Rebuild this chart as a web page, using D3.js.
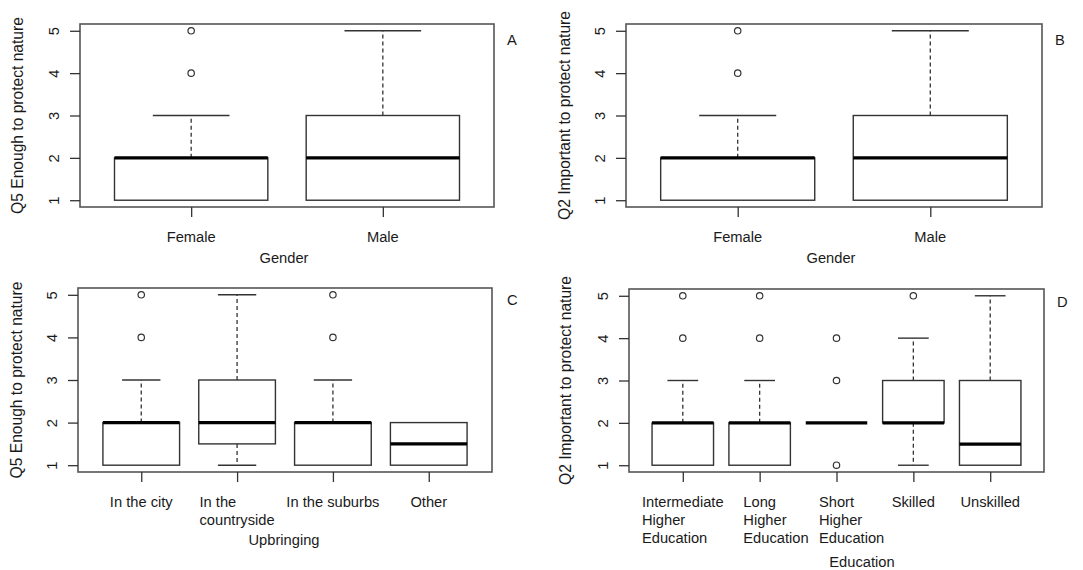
<!DOCTYPE html>
<html><head><meta charset="utf-8">
<script src="https://cdn.jsdelivr.net/npm/d3@7"></script>
<style>
html,body{margin:0;padding:0;background:#fff;}
svg{display:block;font-family:"Liberation Sans",Arial,sans-serif;}
</style></head>
<body>
<svg id="chart" width="1083" height="570"></svg>
<script>
// ---------- data ----------
const yTicks = [1, 2, 3, 4, 5];

// Panel A: Q5 by Gender
const genderCats = ["Female", "Male"];
const aQ1 = [1, 1], aMed = [2, 2], aQ3 = [2, 3], aLo = [1, 1], aHi = [3, 5];
const aOut = [[4, 5], []];

// Panel B: Q2 by Gender
const bQ1 = [1, 1], bMed = [2, 2], bQ3 = [2, 3], bLo = [1, 1], bHi = [3, 5];
const bOut = [[4, 5], []];

// Panel C: Q5 by Upbringing
const upCats = ["In the city", "In the\ncountryside", "In the suburbs", "Other"];
const cQ1 = [1, 1.5, 1, 1], cMed = [2, 2, 2, 1.5], cQ3 = [2, 3, 2, 2], cLo = [1, 1, 1, 1], cHi = [3, 5, 3, 2];
const cOut = [[4, 5], [], [4, 5], []];

// Panel D: Q2 by Education
const eduCats = ["Intermediate\nHigher\nEducation", "Long\nHigher\nEducation", "Short\nHigher\nEducation", "Skilled", "Unskilled"];
const dQ1 = [1, 1, 2, 2, 1], dMed = [2, 2, 2, 2, 1.5], dQ3 = [2, 2, 2, 3, 3], dLo = [1, 1, 2, 1, 1], dHi = [3, 3, 2, 4, 5];
const dOut = [[4, 5], [4, 5], [1, 3, 4], [5], []];

const yTitles = ["Q5 Enough to protect nature", "Q2 Important to protect nature"];
const xTitles = ["Gender", "Upbringing", "Education"];
const panelLetters = ["A", "B", "C", "D"];

// ---------- build ----------
function stats(cats, q1, med, q3, lo, hi, out) {
  return cats.map((c, i) => ({cat: c, i: i + 1, q1: q1[i], med: med[i], q3: q3[i], lo: lo[i], hi: hi[i], out: out[i]}));
}

const panels = [
  {data: stats(genderCats, aQ1, aMed, aQ3, aLo, aHi, aOut), yTitle: yTitles[0], xTitle: xTitles[0], letter: panelLetters[0],
   L: 80, R: 494, T: 24, B: 207, ytx: 17, xtx: 284, xty: 258, lx: 507, ly: 45, align: "block"},
  {data: stats(genderCats, bQ1, bMed, bQ3, bLo, bHi, bOut), yTitle: yTitles[1], xTitle: xTitles[0], letter: panelLetters[1],
   L: 626, R: 1042, T: 24, B: 207, ytx: 564, xtx: 831, xty: 258, lx: 1055, ly: 45, align: "block"},
  {data: stats(upCats, cQ1, cMed, cQ3, cLo, cHi, cOut), yTitle: yTitles[0], xTitle: xTitles[1], letter: panelLetters[2],
   L: 78, R: 492, T: 288, B: 472, ytx: 16, xtx: 284, xty: 540, lx: 507, ly: 305, align: "block"},
  {data: stats(eduCats, dQ1, dMed, dQ3, dLo, dHi, dOut), yTitle: yTitles[1], xTitle: xTitles[2], letter: panelLetters[3],
   L: 629, R: 1044, T: 289, B: 472, ytx: 565, xtx: 862, xty: 562, lx: 1057, ly: 307, align: "first"}
];

const svg = d3.select("#chart");
const FS = 14.7;      // horizontal text
const FSR = 15.6;     // rotated axis titles
const lineCol = "#333";
const textCol = "#1a1a1a";

panels.forEach(p => {
  const n = p.data.length;
  const x = d3.scaleLinear().domain([0.5 - 0.04 * n, n + 0.5 + 0.04 * n]).range([p.L, p.R]);
  const y = d3.scaleLinear().domain([0.84, 5.16]).range([p.B, p.T]);
  const bw = (x(1.4) - x(1));  // half box width (0.8 wide boxes)
  const g = svg.append("g");

  p.data.forEach(d => {
    const cx = x(d.i);
    if (d.hi > d.q3) {
      g.append("line").attr("x1", cx).attr("x2", cx).attr("y1", y(d.q3)).attr("y2", y(d.hi))
        .attr("stroke", lineCol).attr("stroke-width", 1.3).attr("stroke-dasharray", "4,3");
      g.append("line").attr("x1", cx - bw / 2).attr("x2", cx + bw / 2).attr("y1", y(d.hi)).attr("y2", y(d.hi))
        .attr("stroke", lineCol).attr("stroke-width", 1.4);
    }
    if (d.lo < d.q1) {
      g.append("line").attr("x1", cx).attr("x2", cx).attr("y1", y(d.q1)).attr("y2", y(d.lo))
        .attr("stroke", lineCol).attr("stroke-width", 1.3).attr("stroke-dasharray", "4,3");
      g.append("line").attr("x1", cx - bw / 2).attr("x2", cx + bw / 2).attr("y1", y(d.lo)).attr("y2", y(d.lo))
        .attr("stroke", lineCol).attr("stroke-width", 1.4);
    }
    if (d.q3 > d.q1) {
      g.append("rect").attr("x", cx - bw).attr("y", y(d.q3)).attr("width", 2 * bw).attr("height", y(d.q1) - y(d.q3))
        .attr("fill", "#fff").attr("stroke", lineCol).attr("stroke-width", 1.4);
    }
    g.append("line").attr("x1", cx - bw).attr("x2", cx + bw).attr("y1", y(d.med)).attr("y2", y(d.med))
      .attr("stroke", "#000").attr("stroke-width", 3.2);
    d.out.forEach(o => {
      g.append("circle").attr("cx", cx).attr("cy", y(o)).attr("r", 3.2)
        .attr("fill", "none").attr("stroke", lineCol).attr("stroke-width", 1.2);
    });
  });

  // frame
  g.append("rect").attr("x", p.L).attr("y", p.T).attr("width", p.R - p.L).attr("height", p.B - p.T)
    .attr("fill", "none").attr("stroke", "#555").attr("stroke-width", 1.6);

  // y axis
  const ya = g.append("g").attr("transform", `translate(${p.L},0)`)
    .call(d3.axisLeft(y).tickValues(yTicks).tickSize(10).tickFormat(d3.format("d")));
  ya.select(".domain").remove();
  ya.selectAll(".tick line").attr("stroke", lineCol).attr("stroke-width", 1.3);
  ya.selectAll(".tick text").attr("transform", "rotate(-90)").attr("x", 0).attr("y", -21).attr("dy", 0)
    .attr("text-anchor", "middle").attr("font-size", FS).attr("fill", textCol).attr("font-family", null);

  // x axis
  const xa = g.append("g").attr("transform", `translate(0,${p.B})`)
    .call(d3.axisBottom(x).tickValues(p.data.map(d => d.i)).tickSize(10).tickFormat(""));
  xa.select(".domain").remove();
  xa.selectAll(".tick line").attr("stroke", lineCol).attr("stroke-width", 1.3);

  // x tick labels (possibly multi-line)
  p.data.forEach(d => {
    const lines = d.cat.split("\n");
    const t = g.append("text").attr("font-size", FS).attr("fill", textCol);
    lines.forEach((ln, k) => {
      t.append("tspan").attr("x", 0).attr("y", p.B + 35 + k * 18).text(ln);
    });
    if (lines.length === 1) {
      t.attr("text-anchor", "middle");
      t.selectAll("tspan").attr("x", x(d.i));
    } else {
      const widths = [];
      t.selectAll("tspan").each(function () { widths.push(this.getComputedTextLength()); });
      const ref = p.align === "first" ? widths[0] : d3.max(widths);
      t.selectAll("tspan").attr("x", x(d.i) - ref / 2);
    }
  });

  // axis titles
  g.append("text").attr("x", p.xtx).attr("y", p.xty + 5).attr("text-anchor", "middle")
    .attr("font-size", FS).attr("fill", textCol).text(p.xTitle);
  const cy = (p.T + p.B) / 2;
  g.append("text").attr("transform", `translate(${p.ytx + 5.5},${cy}) rotate(-90)`).attr("text-anchor", "middle")
    .attr("font-size", FSR).attr("fill", textCol).text(p.yTitle);

  // panel letter
  g.append("text").attr("x", p.lx).attr("y", p.ly).attr("font-size", FS).attr("fill", textCol).text(p.letter);
});
</script>
</body></html>
